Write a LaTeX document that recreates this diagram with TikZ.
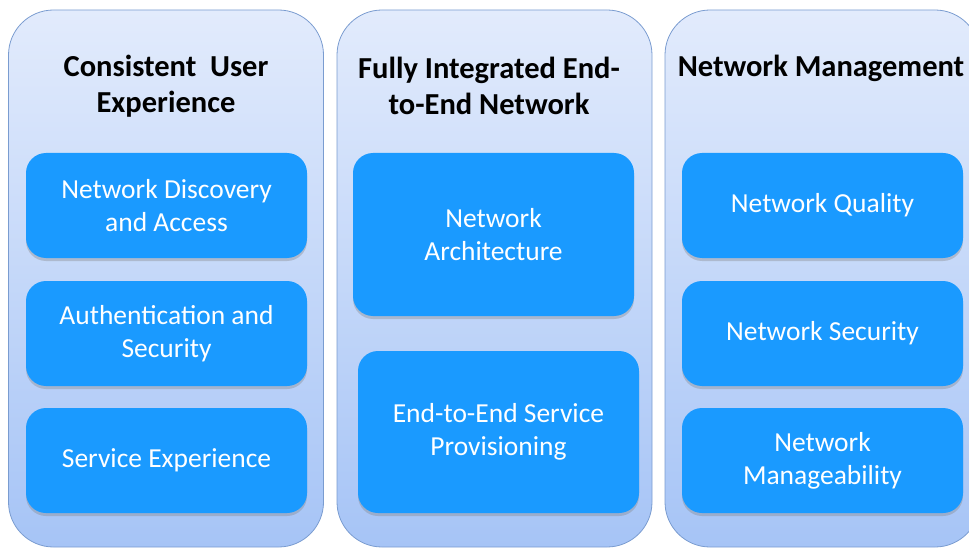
\documentclass[tikz,border=0pt]{standalone}
\usepackage{fontspec}
\setmainfont{Carlito}
\usetikzlibrary{shadows}
\definecolor{pillartop}{RGB}{226,235,252}
\definecolor{pillarbot}{RGB}{166,196,246}
\definecolor{pillarline}{RGB}{122,156,208}
\definecolor{itemblue}{RGB}{26,154,255}
\tikzset{
  pillar/.style={draw=pillarline, line width=0.8pt, rounded corners=45pt,
    top color=pillartop, bottom color=pillarbot, inner sep=0pt,
    minimum width=315pt, minimum height=537pt},
  itembox/.style={fill=itemblue, rounded corners=20pt, inner sep=0pt,
    minimum width=281pt, text=white, align=center,
    font=\fontsize{27.5}{33}\selectfont,
    drop shadow={opacity=0.35, shadow xshift=0pt, shadow yshift=-3pt}},
  heading/.style={font=\bfseries\fontsize{30.5}{36}\selectfont, align=center}
}
\begin{document}
\begin{tikzpicture}[x=1pt, y=-1pt]
	\useasboundingbox (0,0) rectangle (969,548);
	% the three pillars
	\node[pillar] (userpillar) at (166,278.5) {};
	\node[pillar] (netpillar) at (494.5,278.5) {};
	\node[pillar] (mgmtpillar) at (822.5,278.5) {};
	% headings
	\node[heading] (userhead) at (166,86) {Consistent\ \ User\\Experience};
	\node[heading] (nethead) at (489,86) {Fully Integrated End-\\to-End Network};
	\node[heading] (mgmthead) at (821,68) {Network Management};
	% first pillar
	\node[itembox, minimum height=105pt] (discovery) at (166.5,205.5) {Network Discovery\\and Access};
	\node[itembox, minimum height=105pt] (auth) at (166.5,333.5) {Authentication and\\Security};
	\node[itembox, minimum height=105pt] (service) at (166.5,460.5) {Service Experience};
	% second pillar
	\node[itembox, minimum height=163pt] (arch) at (493.5,234.5) {Network\\Architecture};
	\node[itembox, minimum height=162pt] (provision) at (498.5,432) {End-to-End Service\\Provisioning};
	% third pillar
	\node[itembox, minimum height=105pt] (quality) at (822.5,205.5) {Network Quality};
	\node[itembox, minimum height=105pt] (security) at (822.5,333.5) {Network Security};
	\node[itembox, minimum height=105pt] (manage) at (822.5,460.5) {Network\\Manageability};
\end{tikzpicture}
\end{document}
